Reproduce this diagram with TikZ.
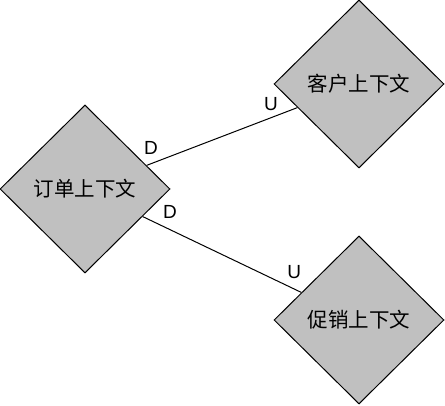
\documentclass[tikz,border=0pt]{standalone}
\usepackage{fontspec}
\setmainfont{Liberation Sans}
\newfontfamily\cjk{Noto Sans CJK SC}
\usetikzlibrary{shapes.geometric}
\tikzset{
  ctx/.style={diamond, draw=black, line width=1pt, fill=ctxgray,
    minimum width=170pt, minimum height=168pt, inner sep=0pt,
    font=\cjk\fontsize{20.5}{24}\selectfont},
  rel/.style={draw=black, line width=1pt},
  lbl/.style={inner sep=0pt, font=\fontsize{19}{21}\selectfont}
}
\definecolor{ctxgray}{HTML}{C0C0C0}
\begin{document}
\begin{tikzpicture}[x=1pt, y=-1pt]
\useasboundingbox (0,0) rectangle (445,406);
\node[ctx] (order) at (85,189) {订单上下文};
\node[ctx] (cust) at (359,84) {客户上下文};
\node[ctx] (promo) at (359,320) {促销上下文};
\draw[rel] (order) -- (cust)
  node[lbl, at start, anchor=south west, xshift=-3pt, yshift=10.5pt] (d1) {D}
  node[lbl, at end, anchor=south east, xshift=-19pt, yshift=-3.2pt] (u1) {U};
\draw[rel] (order) -- (promo)
  node[lbl, at start, anchor=south west, xshift=20pt, yshift=-2.9pt] (d2) {D}
  node[lbl, at end, anchor=south east, xshift=0.3pt, yshift=13.3pt] (u2) {U};
\end{tikzpicture}
\end{document}
